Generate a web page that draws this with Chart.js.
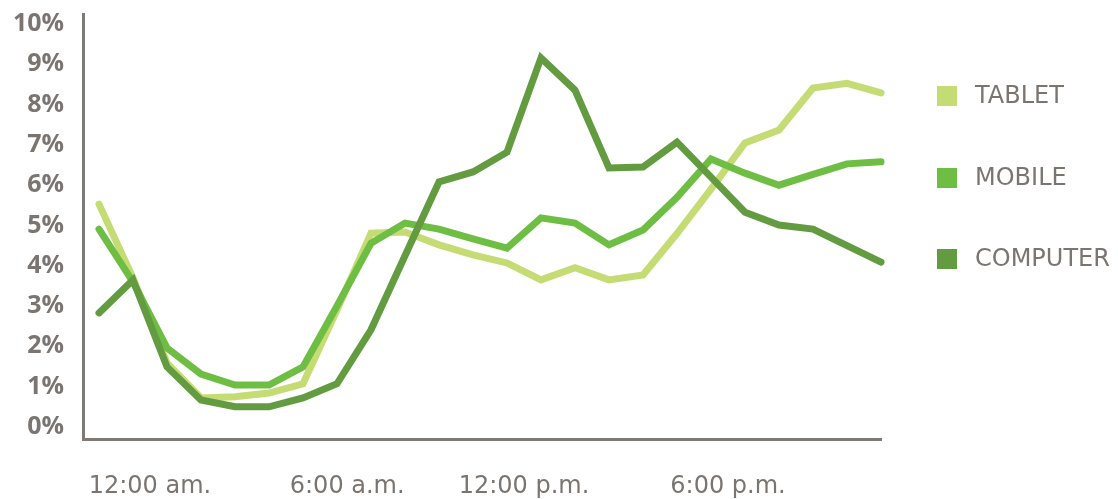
<!DOCTYPE html>
<html>
<head>
<meta charset="utf-8">
<script src="https://cdn.jsdelivr.net/npm/chart.js@4/dist/chart.umd.min.js"></script>
<style>
    html, body { margin: 0; padding: 0; background: #ffffff; }
    #wrap { width: 1118px; height: 499px; }
</style>
</head>
<body>
<div id="wrap"><canvas id="chart"></canvas></div>
<script>
/* ------------------------------------------------------------
   DATA  (share of traffic per hour, %)
------------------------------------------------------------ */
const hours = [0, 1, 2, 3, 4, 5, 6, 7, 8, 9, 10, 11, 12, 13, 14, 15, 16, 17, 18, 19, 20, 21, 22, 23];

const tablet = [5.53, 3.7, 1.59, 0.72, 0.75, 0.84, 1.07, 2.9, 4.81, 4.84, 4.52, 4.27, 4.07, 3.65,
                3.95, 3.65, 3.77, 4.8, 5.9, 7.05, 7.37, 8.41, 8.53, 8.29];
const mobile = [4.91, 3.6, 1.96, 1.31, 1.04, 1.04, 1.49, 3.0, 4.56, 5.06, 4.91, 4.67, 4.44, 5.19,
                5.06, 4.52, 4.89, 5.7, 6.65, 6.3, 6.0, 6.27, 6.53, 6.58];
const computer = [2.83, 3.65, 1.49, 0.67, 0.5, 0.5, 0.72, 1.07, 2.41, 4.25, 6.08, 6.33, 6.82, 9.16,
                  8.36, 6.43, 6.45, 7.07, 6.2, 5.33, 5.01, 4.91, 4.5, 4.09];

const seriesNames = ["TABLET", "MOBILE", "COMPUTER"];

const timeLabels = ["12:00 am.", "6:00 a.m.", "12:00 p.m.", "6:00 p.m."];
const timeLabelHours = [1.5, 7.3, 12.5, 18.5];

const yTicks = [0, 1, 2, 3, 4, 5, 6, 7, 8, 9, 10];

/* ------------------------------------------------------------
   THEME
------------------------------------------------------------ */
const COLORS = {
    tablet: "#c5dc74",
    mobile: "#6fbe44",
    computer: "#639b40",
    text: "#7b7571",
    axis: "#807a77"
};
const FONT = "'Open Sans', 'Noto Sans', sans-serif";
const FONT_WIDE = "'DejaVu Sans', sans-serif";

function toPoints(values) {
    return values.map((v, i) => ({ x: hours[i], y: v }));
}

function lineSet(label, values, color, order) {
    return {
        label,
        data: toPoints(values),
        borderColor: color,
        backgroundColor: color,
        borderWidth: 7,
        borderCapStyle: "round",
        borderJoinStyle: "miter",
        pointRadius: 0,
        pointHoverRadius: 0,
        tension: 0,
        clip: false,
        order
    };
}

// fixed scale boxes, no extra label overflow padding
function fixBox(s, size) {
    if (s.isHorizontal()) s.height = size; else s.width = size;
    s.paddingTop = 0;
    s.paddingBottom = 0;
    s.paddingLeft = 0;
    s.paddingRight = 0;
}

/* ------------------------------------------------------------
   CUSTOM LEGEND (square + label, right side)
------------------------------------------------------------ */
const sideLegend = {
    id: "sideLegend",
    afterDraw(chart) {
        const ctx = chart.ctx;
        const rowsY = [96, 178, 259];
        ctx.save();
        ctx.font = `400 24px ${FONT_WIDE}`;
        ctx.textBaseline = "middle";
        ctx.textAlign = "left";
        chart.data.datasets.forEach((ds, i) => {
            ctx.fillStyle = ds.borderColor;
            ctx.fillRect(937, rowsY[i] - 10, 20, 20);
            ctx.fillStyle = COLORS.text;
            ctx.fillText(ds.label, 975, rowsY[i] + 1);
        });
        ctx.restore();
    }
};

new Chart(document.getElementById("chart"), {
    type: "line",
    data: {
        datasets: [
            lineSet(seriesNames[0], tablet, COLORS.tablet, 3),
            lineSet(seriesNames[1], mobile, COLORS.mobile, 2),
            lineSet(seriesNames[2], computer, COLORS.computer, 1)
        ]
    },
    options: {
        responsive: true,
        maintainAspectRatio: false,
        animation: false,
        layout: { padding: { left: 0, right: 237, top: 14, bottom: 0 } },
        plugins: {
            legend: { display: false },
            tooltip: { enabled: false }
        },
        scales: {
            x: {
                type: "linear",
                min: -0.47,
                max: 23,
                afterFit: s => fixBox(s, 60),
                afterBuildTicks: s => { s.ticks = timeLabelHours.map(v => ({ value: v })); },
                grid: { display: false, drawTicks: false, tickLength: 0 },
                border: { display: true, color: COLORS.axis, width: 3 },
                ticks: {
                    autoSkip: false,
                    maxRotation: 0,
                    padding: 33,
                    color: COLORS.text,
                    font: { family: FONT_WIDE, size: 24, weight: "400" },
                    callback: (v, i) => timeLabels[i]
                }
            },
            y: {
                min: -0.3,
                max: 10.25,
                afterFit: s => fixBox(s, 83),
                afterBuildTicks: s => { s.ticks = yTicks.map(v => ({ value: v })); },
                grid: { display: false, drawTicks: false, tickLength: 0 },
                border: { display: true, color: COLORS.axis, width: 3 },
                ticks: {
                    padding: 19,
                    color: COLORS.text,
                    font: { family: FONT, size: 25, weight: "700" },
                    callback: v => v + "%"
                }
            }
        }
    },
    plugins: [sideLegend]
});
</script>
</body>
</html>
